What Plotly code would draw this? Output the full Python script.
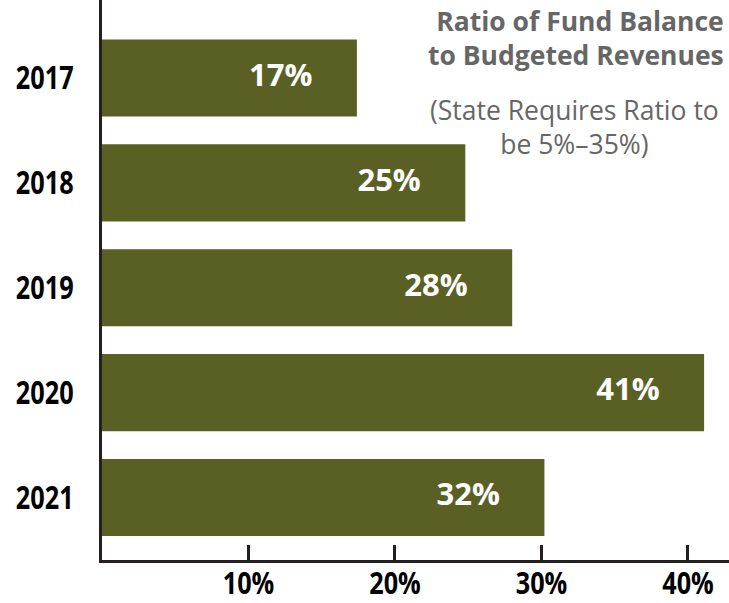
import plotly.graph_objects as go

years = ["2017", "2018", "2019", "2020", "2021"]
ratios = [17.4, 24.8, 28.0, 41.1, 30.2]
labels = ["17%", "25%", "28%", "41%", "32%"]
tick_vals = [10, 20, 30, 40]
tick_text = ["10%", "20%", "30%", "40%"]

bar_color = "#5a6024"
axis_color = "#231f20"
label_offset = 5.2

fig = go.Figure()
fig.add_trace(go.Bar(
    x=ratios, y=years, orientation="h",
    marker=dict(color=bar_color, line=dict(width=0)),
    width=0.735, hoverinfo="skip",
))
fig.add_trace(go.Scatter(
    x=[v - label_offset for v in ratios], y=years, mode="text",
    text=labels, textposition="middle center",
    textfont=dict(family="Open Sans", size=31, color="white", weight="bold"),
    hoverinfo="skip",
))

fig.add_annotation(
    xref="paper", yref="paper", x=1.0, y=1.0, xanchor="right", yanchor="top",
    xshift=-3, yshift=-1,
    text="<b>Ratio of Fund Balance<br>to Budgeted Revenues</b>", showarrow=False,
    align="right",
    font=dict(family="Open Sans", size=26.5, color="#666666"),
)
fig.add_annotation(
    xref="paper", yref="paper", x=0.753, y=1.0, xanchor="center", yanchor="top",
    yshift=-90,
    text="(State Requires Ratio to<br>be 5%–35%)", showarrow=False,
    align="center",
    font=dict(family="Open Sans", size=26.5, color="#666666"),
)

fig.update_layout(
    width=729, height=603,
    margin=dict(l=101.5, r=0, t=0, b=43),
    paper_bgcolor="white", plot_bgcolor="white",
    showlegend=False,
    xaxis=dict(
        range=[0, 42.8], tickvals=tick_vals, ticktext=tick_text,
        showgrid=False, zeroline=False, automargin=False,
        showline=True, linecolor=axis_color, linewidth=3,
        ticks="inside", ticklen=15, tickwidth=3, tickcolor=axis_color,
        ticklabelstandoff=-5,
        tickfont=dict(family="Open Sans", size=30, color="black", weight="bold"),
        fixedrange=True,
    ),
    yaxis=dict(
        type="category", categoryorder="array", categoryarray=years,
        range=[4.596, -0.744],
        showgrid=False, zeroline=False, automargin=False,
        showline=True, linecolor=axis_color, linewidth=3,
        ticks="", ticklabelstandoff=19,
        tickfont=dict(family="Open Sans", size=32, color="black", weight="bold"),
        fixedrange=True,
    ),
)

# Condense the bold tick labels (the reference uses a condensed bold face)
post = """
document.body.style.margin='0';
function squeeze(sel, f){
  document.querySelectorAll(sel).forEach(function(t){
    var w = t.getComputedTextLength();
    t.setAttribute('textLength', (w*f).toFixed(2));
    t.setAttribute('lengthAdjust', 'spacingAndGlyphs');
  });
}
squeeze('.ytick text', 0.79);
squeeze('.xtick text', 0.84);
"""

fig.write_html("out.html", post_script=post, config={"displayModeBar": False})
